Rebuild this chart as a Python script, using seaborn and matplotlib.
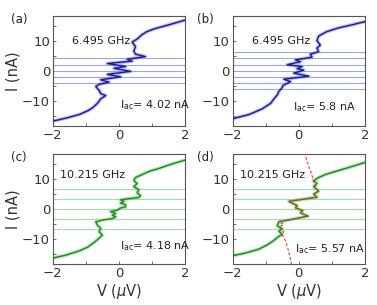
import numpy as np
import pandas as pd
import matplotlib
matplotlib.use("Agg")
import matplotlib.pyplot as plt
import seaborn as sns

sns.set_style("ticks")
plt.rcParams['font.family'] = ['DejaVu Sans']
plt.rcParams['mathtext.fontset'] = 'dejavusans'

# ---- data ----
# (a) 6.495 GHz, Iac = 4.02 nA
a_v = [-2.0, -1.6, -1.2, -0.95, -0.8, -0.65, -0.55, -0.4, -0.55, -0.6, -0.7, -0.6, -0.3, -0.55,
       0.05, -0.35, 0.35, -0.15, 0.2, -0.35, 0.4, 0.25, 0.8, 0.5, 0.45, 0.5, 0.4, 0.55, 0.7,
       0.85, 1.1, 1.5, 2.0]
a_i = [-16.7, -15.7, -14.5, -13.3, -12.3, -10.8, -9.3, -8.2, -7.6, -6.5, -5.2, -4.5, -3.8, -3.0,
       -2.0, -1.2, -0.2, 0.8, 1.4, 2.4, 3.2, 3.8, 4.7, 5.5, 6.5, 8.0, 9.5, 10.5, 12.0,
       13.0, 14.0, 15.2, 16.8]
a_steps = [-4.1, -2.05, 0, 2.05, 4.1]

# (b) 6.495 GHz, Iac = 5.8 nA
b_v = [-2.0, -1.5, -1.1, -0.85, -0.75, -0.65, -0.6, -0.5, -0.48, -0.25, -0.45, 0.3, -0.15, 0.15,
       -0.05, 0.1, -0.35, 0.05, -0.1, 0.4, 0.35, 0.6, 0.55, 0.65, 0.55, 0.6, 0.85, 1.2, 1.6, 2.0]
b_i = [-15.9, -14.5, -12.6, -10.8, -9.3, -8.0, -6.8, -5.6, -4.9, -3.6, -2.8, -1.8, -0.8, 0.2,
       0.7, 1.4, 2.0, 3.0, 3.6, 4.5, 5.5, 6.3, 7.5, 8.5, 10.0, 11.5, 13.0, 14.2, 15.2, 16.3]
b_steps = [-6.2, -4.1, -2.05, 0, 2.05, 4.1, 6.2]

# (c) 10.215 GHz, Iac = 4.18 nA
c_v = [-2.0, -1.6, -1.2, -0.95, -0.75, -0.6, -0.5, -0.6, -0.55, -0.65, -0.7, -0.5, -0.2, -0.1,
       -0.2, -0.1, -0.25, -0.05, 0.05, 0.2, 0.2, 0.05, 0.15, 0.05, 0.3, 0.6, 0.65, 0.55, 0.6,
       0.45, 0.55, 0.45, 0.5, 0.7, 0.9, 1.2, 1.6, 2.0]
c_i = [-16.2, -15.2, -13.8, -12.6, -11.0, -9.6, -8.6, -7.5, -6.4, -5.3, -4.2, -3.6, -3.1, -2.5,
       -2.0, -1.4, -0.8, -0.3, 0.4, 0.8, 1.5, 2.0, 2.6, 3.1, 3.5, 3.9, 4.5, 5.5, 6.5,
       7.5, 8.5, 9.5, 10.5, 11.5, 12.5, 13.5, 15.0, 16.3]
c_steps = [-6.6, -3.3, 0, 3.3, 6.6]

# (d) 10.215 GHz, Iac = 5.57 nA, with fit
d_v = [-2.0, -1.6, -1.2, -0.95, -0.75, -0.6, -0.5, -0.6, -0.5, -0.65, -0.6, 0.28, 0.05, 0.12,
       -0.1, -0.05, -0.3, 0.55, 0.45, 0.6, 0.45, 0.55, 0.45, 0.6, 0.8, 1.1, 1.5, 2.0]
d_i = [-15.4, -14.5, -13.2, -11.8, -10.3, -9.0, -8.3, -7.3, -6.5, -5.5, -4.2, -2.3, -1.2, -0.5,
       0.5, 1.2, 2.6, 4.0, 5.0, 6.0, 7.5, 8.5, 9.5, 10.5, 11.5, 12.5, 13.8, 15.5]
d_steps = [-6.6, -3.3, 0, 3.3, 6.6]
fit_v = [-0.22, -0.27, -0.33, -0.4, -0.5, -0.45, -0.6, -0.45, -0.55, -0.6, 0.28, 0.05, 0.12,
         -0.1, -0.05, -0.3, 0.55, 0.45, 0.6, 0.5, 0.45, 0.42, 0.36, 0.28, 0.18]
fit_i = [-18.3, -15.5, -13.0, -10.5, -8.5, -7.5, -6.0, -5.0, -4.5, -4.0, -2.3, -1.2, -0.5,
         0.5, 1.2, 2.6, 4.0, 5.0, 6.0, 7.5, 9.0, 10.5, 12.5, 15.0, 18.3]

panels = [
    dict(v=a_v, i=a_i, steps=a_steps, freq="6.495 GHz", iac="4.02 nA", tag="(a)",
         dark="#1a1a94", light="#7f86e6", line="#9aa4f4", iac_xy=(0.03, -11.4)),
    dict(v=b_v, i=b_i, steps=b_steps, freq="6.495 GHz", iac="5.8 nA", tag="(b)",
         dark="#1a1a94", light="#7f86e6", line="#9aa4f4", iac_xy=(-0.17, -12.0)),
    dict(v=c_v, i=c_i, steps=c_steps, freq="10.215 GHz", iac="4.18 nA", tag="(c)",
         dark="#1c8a1c", light="#7ccc7c", line="#a2e0a2", iac_xy=(0.03, -12.1)),
    dict(v=d_v, i=d_i, steps=d_steps, freq="10.215 GHz", iac="5.57 nA", tag="(d)",
         dark="#1c8a1c", light="#7ccc7c", line="#a2e0a2", iac_xy=(-0.11, -13.1)),
]

fig = plt.figure(figsize=(3.77, 3.05), dpi=100)
boxes = [(0.140, 0.587), (0.617, 0.587), (0.140, 0.133), (0.617, 0.133)]
tag_pos = [(0.030, 0.925), (0.522, 0.925), (0.030, 0.472), (0.522, 0.472)]

for k, p in enumerate(panels):
    ax = fig.add_axes([boxes[k][0], boxes[k][1], 0.351, 0.362])
    for s in p["steps"]:
        ax.axhline(s, color=p["line"], lw=0.8, zorder=1)
    df = pd.DataFrame({"V": p["v"], "I": p["i"]})
    sns.lineplot(data=df, x="V", y="I", sort=False, estimator=None, ax=ax,
                 color=p["light"], lw=2.6, alpha=0.55, zorder=2)
    sns.lineplot(data=df, x="V", y="I", sort=False, estimator=None, ax=ax,
                 color=p["dark"], lw=1.0, zorder=3)
    if k == 3:
        fit = pd.DataFrame({"V": fit_v, "I": fit_i})
        sns.lineplot(data=fit, x="V", y="I", sort=False, estimator=None, ax=ax,
                     color="#ff3030", lw=0.8, linestyle=(0, (2.5, 1.8)), zorder=4)
    ax.set_xlim(-2, 2)
    ax.set_ylim(-18.3, 18.3)
    ax.set_xticks([-2, -1, 0, 1, 2])
    ax.set_xticklabels(["\u22122", "", "0", "", "2"])
    ax.set_yticks([-15, -10, -5, 0, 5, 10, 15])
    ax.set_yticklabels(["", "\u221210", "", "0", "", "10", ""])
    ax.tick_params(direction="in", length=2.5, width=0.6, labelsize=9.5,
                   colors="#555555", labelcolor="#333333", pad=2)
    for sp in ax.spines.values():
        sp.set_color("#555555")
        sp.set_linewidth(0.8)
    ax.set_xlabel("")
    ax.set_ylabel("")
    ax.text(-1.42 if k < 2 else -1.78, 9.7 if k < 2 else 11.3, p["freq"],
            fontsize=8, color="#222222", va="center", ha="left")
    ax.text(p["iac_xy"][0], p["iac_xy"][1], r"I$_{\rm ac}$= " + p["iac"],
            fontsize=8, color="#222222", va="center", ha="left")
    if k in (0, 2):
        ax.set_ylabel("I (nA)", fontsize=10.5, color="#333333", labelpad=1)
    if k in (2, 3):
        ax.set_xlabel(r"V ($\mu$V)", fontsize=10.5, color="#333333", labelpad=1)
    fig.text(tag_pos[k][0], tag_pos[k][1], p["tag"], fontsize=8.5, color="#222222")

fig.savefig("out.png", dpi=100)
